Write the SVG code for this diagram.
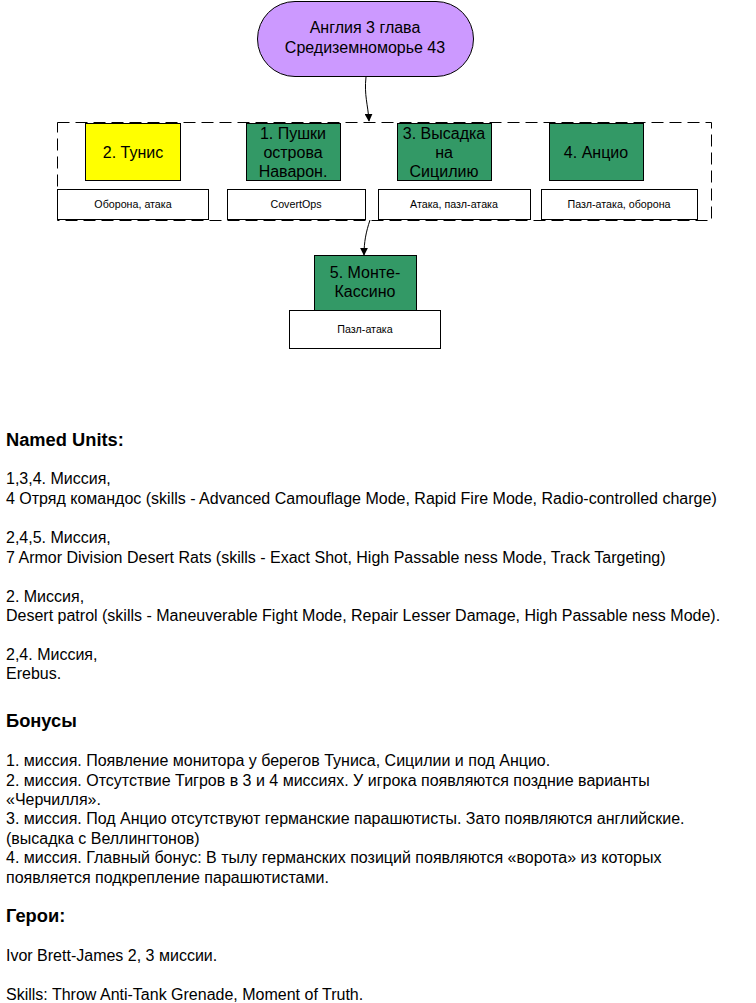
<svg xmlns="http://www.w3.org/2000/svg" width="756" height="1003" viewBox="0 0 756 1003">
<defs>
<style>
text{font-family:"Liberation Sans",Arial,sans-serif;fill:#000}
.n{font-size:16px;text-anchor:middle}
.l{font-size:10.7px;text-anchor:middle}
.t{font-size:16px}
.h{font-size:18.3px;font-weight:bold}
.box{stroke:#000;stroke-width:1}
.g{fill:#339966}
.lab{fill:#fff;stroke:#000;stroke-width:1}
.c{fill:none;stroke:#000;stroke-width:1}
</style>
<marker id="ah" viewBox="0 0 10 10" refX="9" refY="5" markerWidth="8" markerHeight="8" orient="auto" markerUnits="userSpaceOnUse">
<path d="M0,0L10,5L0,10z" fill="#000"/>
</marker>
</defs>
<rect width="756" height="1003" fill="#fff"/>
<g id="connectors">
<path class="c" d="M366,77 C364,95 368,105 369,121" marker-end="url(#ah)"/>
<path class="c" d="M370,220 C366,232 364,242 364,255" marker-end="url(#ah)"/>
</g>
<g id="group">
<rect x="57.5" y="122.5" width="654" height="98" fill="none" stroke="#000" stroke-dasharray="12,6"/>
</g>
<g id="start">
<rect class="box" x="257.5" y="1.5" width="216" height="75" rx="37.5" fill="#cc99ff"/>
<text class="n" x="365" y="33">Англия 3 глава</text>
<text class="n" x="365" y="53">Средиземноморье 43</text>
</g>
<g id="m2">
<rect class="box" x="85.5" y="123.5" width="95" height="57" fill="#ffff00"/>
<text class="n" x="133" y="158">2. Тунис</text>
<rect class="lab" x="57.5" y="189.5" width="151" height="30"/>
<text class="l" x="133" y="208">Оборона, атака</text>
</g>
<g id="m1">
<rect class="box g" x="246.5" y="123.5" width="94" height="57"/>
<text class="n" x="293" y="139">1. Пушки</text>
<text class="n" x="293" y="158">острова</text>
<text class="n" x="293" y="177">Наварон.</text>
<rect class="lab" x="227.5" y="189.5" width="138" height="30"/>
<text class="l" x="296" y="208">CovertOps</text>
</g>
<g id="m3">
<rect class="box g" x="397.5" y="123.5" width="94" height="57"/>
<text class="n" x="444" y="139">3. Высадка</text>
<text class="n" x="444" y="158">на</text>
<text class="n" x="444" y="177">Сицилию</text>
<rect class="lab" x="378.5" y="189.5" width="152" height="30"/>
<text class="l" x="454" y="208">Атака, пазл-атака</text>
</g>
<g id="m4">
<rect class="box g" x="549.5" y="123.5" width="94" height="57"/>
<text class="n" x="596" y="158">4. Анцио</text>
<rect class="lab" x="541.5" y="189.5" width="156" height="30"/>
<text class="l" x="619" y="208">Пазл-атака, оборона</text>
</g>
<g id="m5">
<rect class="box g" x="314.5" y="255.5" width="102" height="55"/>
<text class="n" x="365" y="278">5. Монте-</text>
<text class="n" x="365" y="297">Кассино</text>
<rect class="lab" x="289.5" y="310.5" width="151" height="38"/>
<text class="l" x="365" y="333">Пазл-атака</text>
</g>
<g id="notes">
<text class="h" x="6" y="446">Named Units:</text>
<text class="t" x="6" y="484">1,3,4. Миссия,</text>
<text class="t" x="6" y="504">4 Отряд командос (skills - Advanced Camouflage Mode, Rapid Fire Mode, Radio-controlled charge)</text>
<text class="t" x="6" y="543">2,4,5. Миссия,</text>
<text class="t" x="6" y="563">7 Armor Division Desert Rats (skills - Exact Shot, High Passable ness Mode, Track Targeting)</text>
<text class="t" x="6" y="602">2. Миссия,</text>
<text class="t" x="6" y="621">Desert patrol (skills - Maneuverable Fight Mode, Repair Lesser Damage, High Passable ness Mode).</text>
<text class="t" x="6" y="660">2,4. Миссия,</text>
<text class="t" x="6" y="679">Erebus.</text>
<text class="h" x="6" y="727">Бонусы</text>
<text class="t" x="6" y="766">1. миссия. Появление монитора у берегов Туниса, Сицилии и под Анцио.</text>
<text class="t" x="6" y="786">2. миссия. Отсутствие Тигров в 3 и 4 миссиях. У игрока появляются поздние варианты</text>
<text class="t" x="6" y="805">«Черчилля».</text>
<text class="t" x="6" y="824">3. миссия. Под Анцио отсутствуют германские парашютисты. Зато появляются английские.</text>
<text class="t" x="6" y="844">(высадка с Веллингтонов)</text>
<text class="t" x="6" y="863">4. миссия. Главный бонус: В тылу германских позиций появляются «ворота» из которых</text>
<text class="t" x="6" y="883">появляется подкрепление парашютистами.</text>
<text class="h" x="6" y="922">Герои:</text>
<text class="t" x="6" y="961">Ivor Brett-James 2, 3 миссии.</text>
<text class="t" x="6" y="1000">Skills: Throw Anti-Tank Grenade, Moment of Truth.</text>
</g>
</svg>
